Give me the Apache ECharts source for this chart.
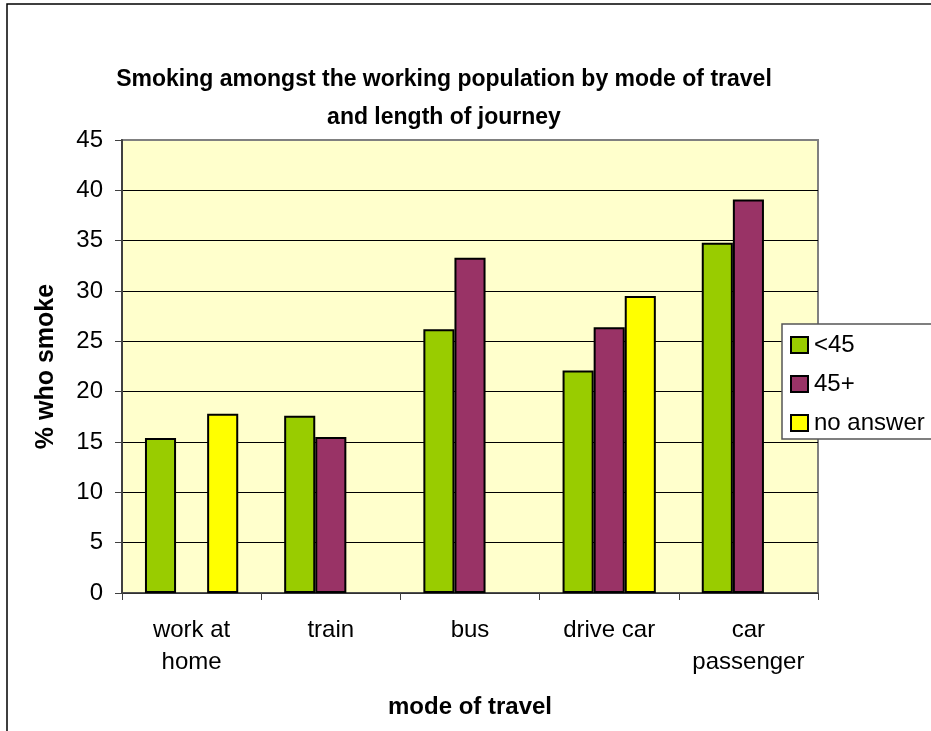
<!DOCTYPE html>
<html>
<head>
<meta charset="utf-8">
<script src="https://cdn.jsdelivr.net/npm/echarts@6/dist/echarts.min.js"></script>
<style>
html,body{margin:0;padding:0;background:#fff;}
#chart{width:931px;height:731px;}
</style>
</head>
<body>
<div id="chart"></div>
<script>
const categories = ['work at\nhome', 'train', 'bus', 'drive car', 'car\npassenger'];
const under45 = [15.4, 17.6, 26.2, 22.1, 34.8];
const over45 = [null, 15.5, 33.3, 26.4, 39.1];
const noAnswer = [17.8, null, null, 29.5, null];
const seriesNames = ['<45', '45+', 'no answer'];
const seriesColors = ['#99CC00', '#993366', '#FFFF00'];
const titleText = 'Smoking amongst the working population by mode of travel\nand length of journey';
const xName = 'mode of travel';
const yName = '% who smoke';

const FONT = 'Liberation Sans, Arial, sans-serif';
const chart = echarts.init(document.getElementById('chart'), null, {renderer: 'canvas'});

const dataSets = [under45, over45, noAnswer];
const series = dataSets.map((d, i) => ({
  name: seriesNames[i],
  type: 'bar',
  data: d,
  barGap: '0%',
  barCategoryGap: '33%',
  itemStyle: {color: seriesColors[i], borderColor: '#000', borderWidth: 2},
  emphasis: {disabled: true}
}));

const splitColors = ['#000','#000','#000','#000','#000','#000','#000','#000','#000','#808080'];

chart.setOption({
  animation: false,
  backgroundColor: '#fff',
  title: {
    text: titleText,
    left: 439, top: 56,
    textAlign: 'center',
    textStyle: {fontFamily: FONT, fontWeight: 'bold', fontSize: 23, lineHeight: 38, color: '#000'}
  },
  graphic: [{
    type: 'rect', shape: {x: 7, y: 4, width: 1000, height: 1000},
    style: {fill: 'none', stroke: '#000', lineWidth: 1.5}, z: -10
  }],
  legend: {
    orient: 'vertical',
    left: 782, top: 324,
    padding: [9, 30, 4, 8],
    itemWidth: 17, itemHeight: 16,
    itemGap: 15,
    backgroundColor: '#fff',
    borderColor: '#555', borderWidth: 1.5,
    icon: 'rect',
    textStyle: {fontFamily: FONT, fontSize: 24, color: '#000', lineHeight: 22, padding: [0, 0, 0, 1]}
  },
  grid: {
    left: 122, top: 140, right: 113, bottom: 138,
    show: true, backgroundColor: '#FFFFCC', borderColor: '#808080', borderWidth: 2
  },
  xAxis: {
    type: 'category',
    data: categories,
    name: xName,
    nameLocation: 'middle',
    nameGap: 102,
    nameTextStyle: {fontFamily: FONT, fontWeight: 'bold', fontSize: 24, color: '#000'},
    axisLine: {lineStyle: {color: '#404040', width: 1.5}},
    axisTick: {show: true, length: 7, lineStyle: {color: '#404040'}},
    axisLabel: {fontFamily: FONT, fontSize: 24, color: '#000', margin: 21, lineHeight: 32, interval: 0},
    splitLine: {show: false}
  },
  yAxis: {
    type: 'value',
    min: 0, max: 45, interval: 5,
    name: yName,
    nameLocation: 'middle',
    nameGap: 63,
    nameRotate: 90,
    nameTextStyle: {fontFamily: FONT, fontWeight: 'bold', fontSize: 25, color: '#000'},
    axisLine: {show: true, lineStyle: {color: '#404040', width: 2}},
    axisTick: {show: true, length: 7, lineStyle: {color: '#404040'}},
    axisLabel: {fontFamily: FONT, fontSize: 24, color: '#000', margin: 19},
    splitLine: {show: true, lineStyle: {color: splitColors, width: 1}}
  },
  series: series
});
</script>
</body>
</html>
